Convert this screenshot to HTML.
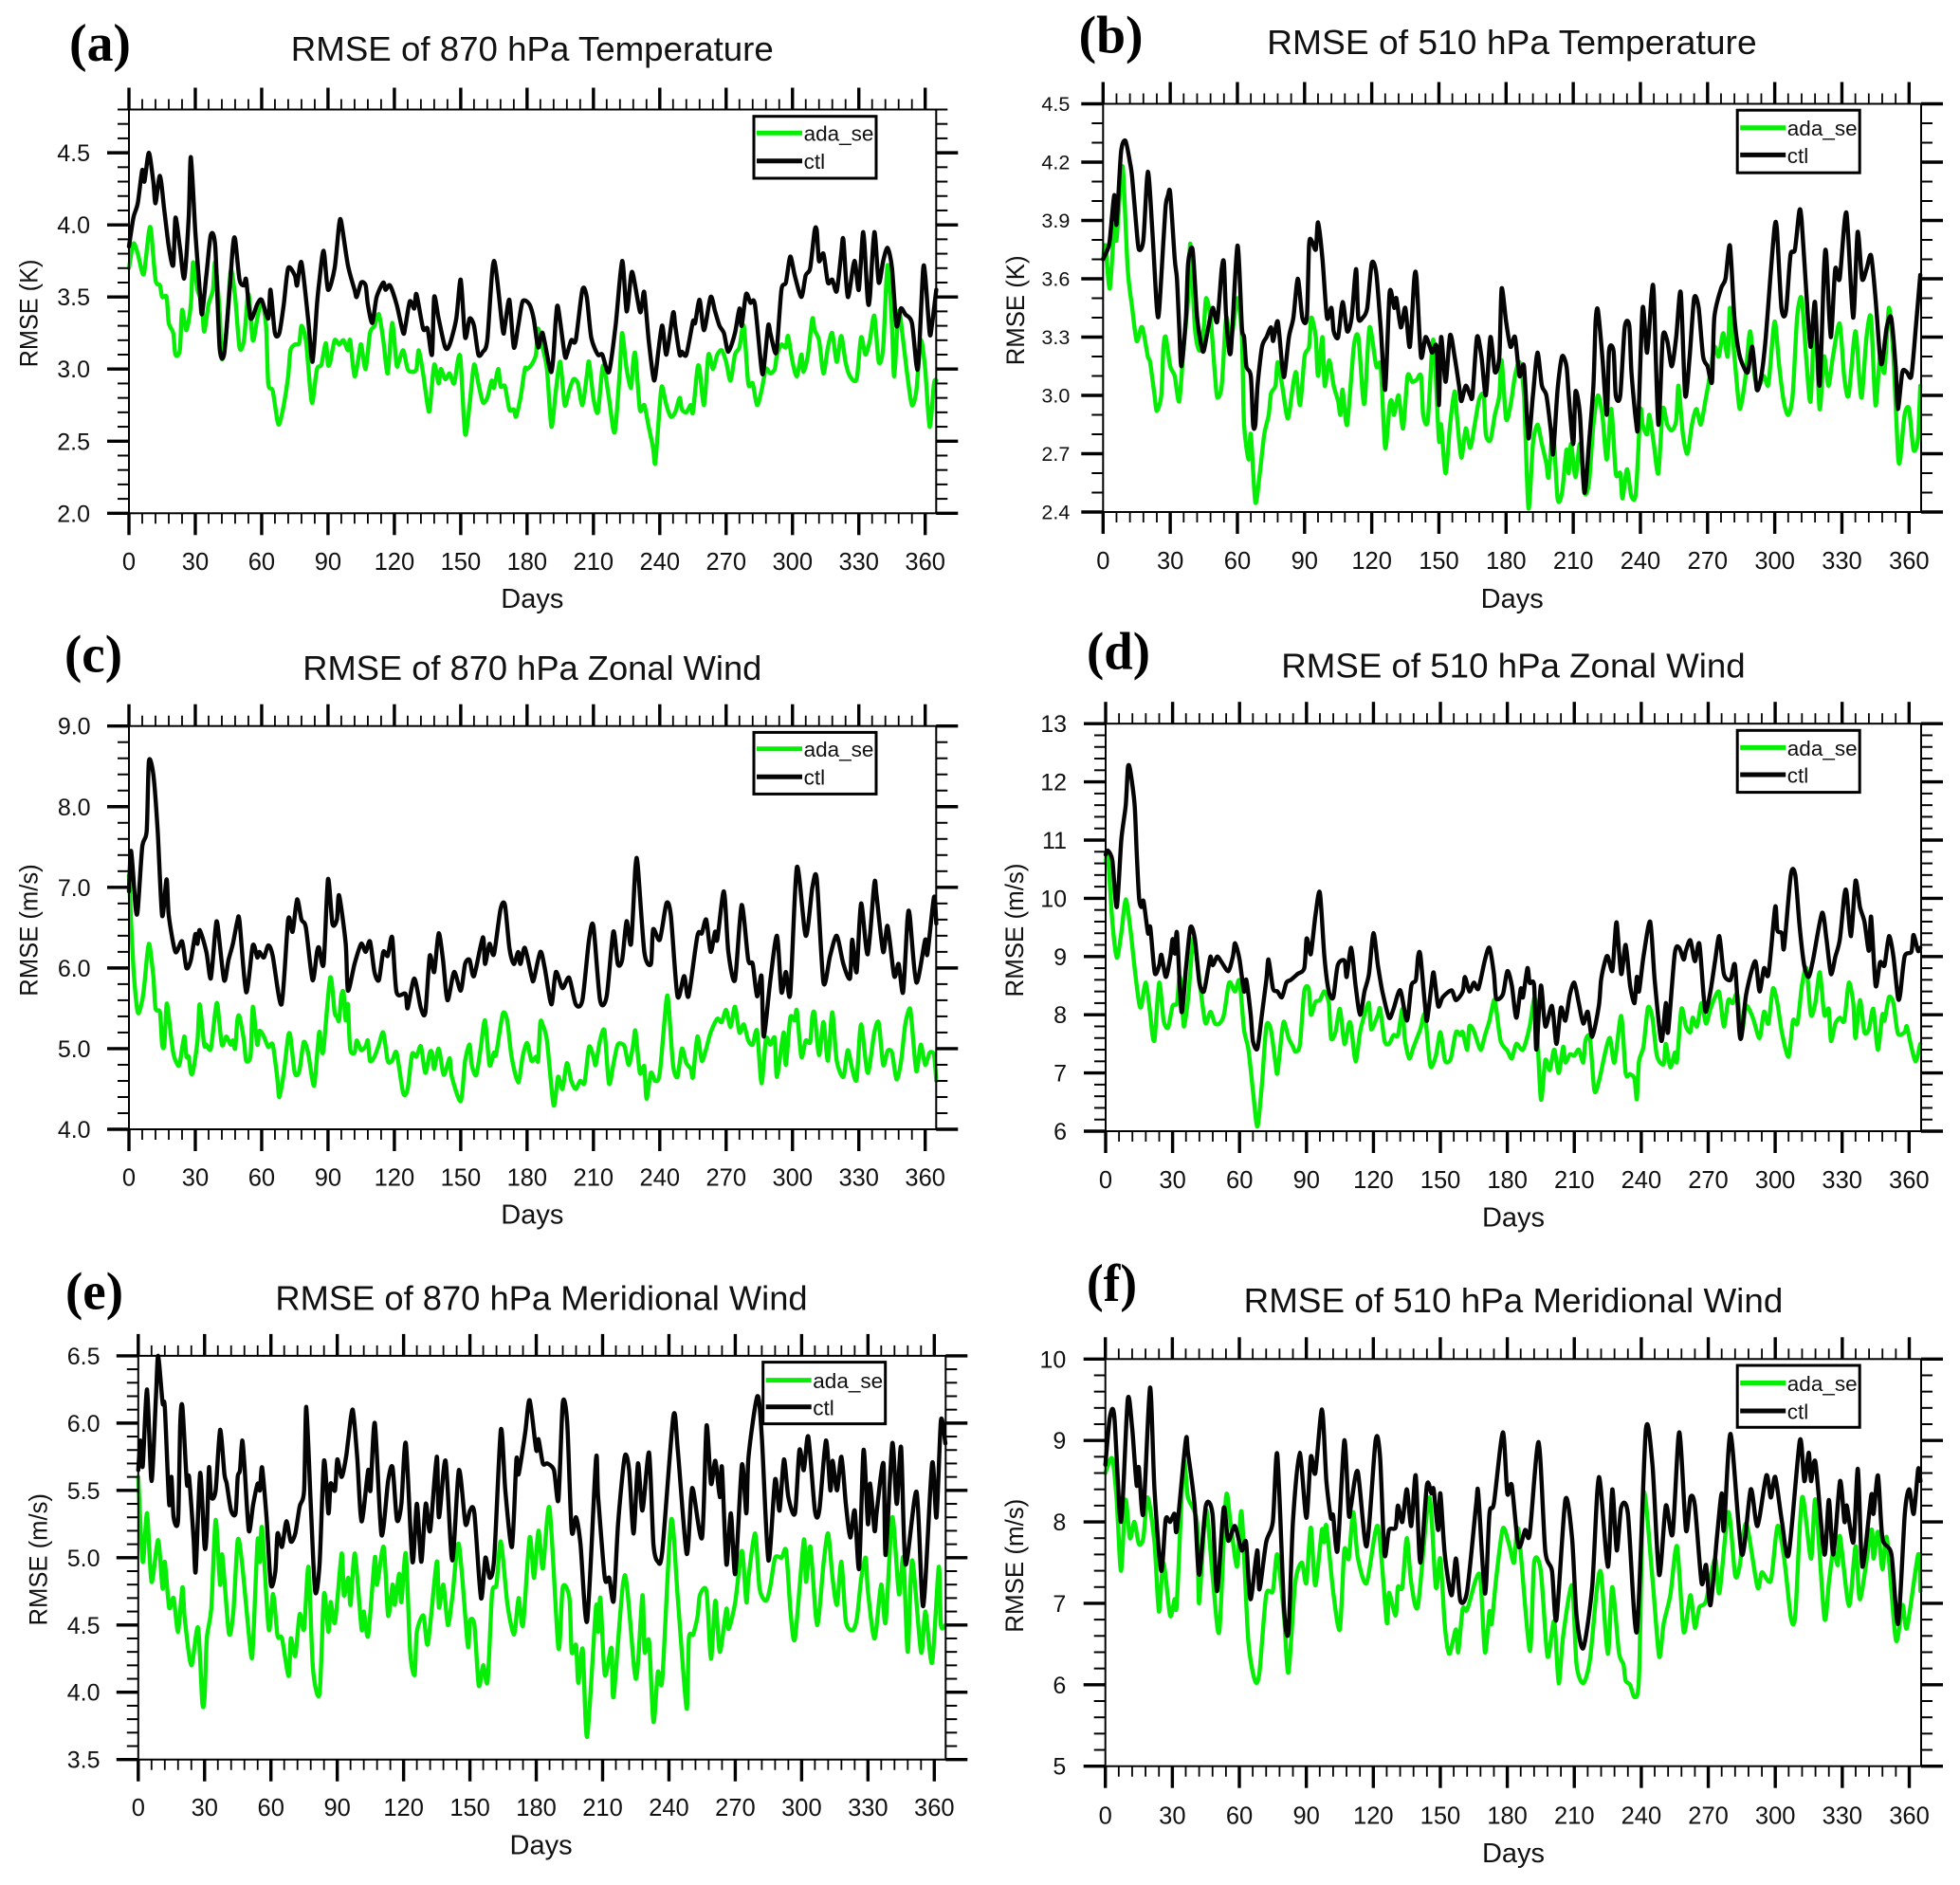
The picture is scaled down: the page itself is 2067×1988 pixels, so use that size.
<!DOCTYPE html>
<html lang="en">
<head>
<meta charset="utf-8">
<title>RMSE panels</title>
<style>
html,body{margin:0;padding:0;background:#fff;}
svg{display:block;}
text{font-family:"Liberation Sans",sans-serif;fill:#111;}
.letter{font-family:"Liberation Serif",serif;font-weight:bold;font-size:56px;fill:#000;}
.title{font-size:36px;text-anchor:middle;}
.days{font-size:29px;text-anchor:middle;}
.ytitle{font-size:27px;text-anchor:middle;}
</style>
</head>
<body>
<svg id="figure" xmlns="http://www.w3.org/2000/svg" width="2067" height="1988" viewBox="0 0 2067 1988">
<rect x="0" y="0" width="2067" height="1988" fill="#fff"/>

<g id="panel-a">
<text class="letter" x="73" y="64" textLength="65" lengthAdjust="spacingAndGlyphs">(a)</text>
<text class="title" x="561.3" y="64" textLength="509" lengthAdjust="spacingAndGlyphs">RMSE of 870 hPa Temperature</text>
<text class="days" x="561.3" y="640.8">Days</text>
<text class="ytitle" transform="translate(39.6,330.5) rotate(-90)" textLength="113.7" lengthAdjust="spacingAndGlyphs">RMSE (K)</text>
</g>
<g id="panel-b">
<text class="letter" x="1137.6" y="55.6" textLength="68" lengthAdjust="spacingAndGlyphs">(b)</text>
<text class="title" x="1594.4" y="56.8" textLength="516.5" lengthAdjust="spacingAndGlyphs">RMSE of 510 hPa Temperature</text>
<text class="days" x="1594.7" y="640.8">Days</text>
<text class="ytitle" transform="translate(1080,327.4) rotate(-90)" textLength="115.8" lengthAdjust="spacingAndGlyphs">RMSE (K)</text>
</g>
<g id="panel-c">
<text class="letter" x="68" y="708.4" textLength="61" lengthAdjust="spacingAndGlyphs">(c)</text>
<text class="title" x="561.3" y="716.8" textLength="484" lengthAdjust="spacingAndGlyphs">RMSE of 870 hPa Zonal Wind</text>
<text class="days" x="561.3" y="1290.3">Days</text>
<text class="ytitle" transform="translate(39.6,981) rotate(-90)" textLength="139.4" lengthAdjust="spacingAndGlyphs">RMSE (m/s)</text>
</g>
<g id="panel-d">
<text class="letter" x="1146" y="705.5" textLength="67" lengthAdjust="spacingAndGlyphs">(d)</text>
<text class="title" x="1596" y="714.7" textLength="489.4" lengthAdjust="spacingAndGlyphs">RMSE of 510 hPa Zonal Wind</text>
<text class="days" x="1596" y="1293.7">Days</text>
<text class="ytitle" transform="translate(1079,981) rotate(-90)" textLength="141" lengthAdjust="spacingAndGlyphs">RMSE (m/s)</text>
</g>
<g id="panel-e">
<text class="letter" x="69" y="1380.6" textLength="61" lengthAdjust="spacingAndGlyphs">(e)</text>
<text class="title" x="571" y="1381.5" textLength="561.3" lengthAdjust="spacingAndGlyphs">RMSE of 870 hPa Meridional Wind</text>
<text class="days" x="570.6" y="1955.4">Days</text>
<text class="ytitle" transform="translate(49.5,1644.8) rotate(-90)" textLength="139.4" lengthAdjust="spacingAndGlyphs">RMSE (m/s)</text>
</g>
<g id="panel-f">
<text class="letter" x="1146" y="1372" textLength="53" lengthAdjust="spacingAndGlyphs">(f)</text>
<text class="title" x="1596" y="1384" textLength="568.6" lengthAdjust="spacingAndGlyphs">RMSE of 510 hPa Meridional Wind</text>
<text class="days" x="1596" y="1963.8">Days</text>
<text class="ytitle" transform="translate(1079,1651.2) rotate(-90)" textLength="141" lengthAdjust="spacingAndGlyphs">RMSE (m/s)</text>
</g>
</svg>

<script>
// Shared x-axis tick labels
const dayTicks = [0,30,60,90,120,150,180,210,240,270,300,330,360];

// y-axis tick labels per panel
const yLabelsA = ['2.0','2.5','3.0','3.5','4.0','4.5'];
const yLabelsB = ['2.4','2.7','3.0','3.3','3.6','3.9','4.2','4.5'];
const yLabelsC = ['4.0','5.0','6.0','7.0','8.0','9.0'];
const yLabelsD = ['6','7','8','9','10','11','12','13'];
const yLabelsE = ['3.5','4.0','4.5','5.0','5.5','6.0','6.5'];
const yLabelsF = ['5','6','7','8','9','10'];

// Series as [day, RMSE]
const ctlA = [[0,3.85],[2,4.05],[4,4.15],[6,4.38],[7,4.3],[9,4.5],[11,4.3],[12,4.15],[14,4.34],[16,4.1],[18,3.85],[20,3.72],[21,4.05],[23,3.85],[25,3.63],[27,4.05],[28,4.47],[30,3.95],[32,3.55],[33,3.38],[35,3.65],[37,3.93],[39,3.85],[41,3.15],[43,3.1],[45,3.45],[47,3.85],[48,3.9],[50,3.62],[52,3.58],[53,3.62],[55,3.35],[58,3.45],[60,3.48],[63,3.35],[64,3.55],[66,3.25],[68,3.25],[70,3.45],[72,3.7],[75,3.65],[76,3.58],[78,3.74],[81,3.35],[83,3.05],[85,3.45],[86,3.6],[88,3.82],[90,3.55],[93,3.7],[95,4.0],[96,4.02],[99,3.72],[102,3.55],[103,3.5],[105,3.6],[107,3.58],[108,3.45],[110,3.32],[112,3.5],[115,3.6],[116,3.55],[118,3.58],[121,3.45],[124,3.25],[125,3.3],[127,3.47],[129,3.42],[130,3.52],[133,3.28],[135,3.28],[137,3.1],[138,3.5],[140,3.35],[143,3.15],[145,3.17],[148,3.35],[150,3.62],[152,3.22],[154,3.35],[156,3.3],[158,3.1],[160,3.12],[162,3.2],[165,3.75],[169,3.27],[170,3.3],[172,3.48],[174,3.15],[176,3.3],[178,3.47],[181,3.45],[183,3.35],[185,3.15],[187,3.25],[191,2.98],[193,3.35],[194,3.43],[197,3.1],[198,3.1],[200,3.2],[202,3.2],[205,3.55],[207,3.5],[209,3.22],[212,3.1],[214,3.1],[217,2.98],[220,3.3],[223,3.75],[225,3.4],[227,3.65],[228,3.65],[231,3.4],[232,3.45],[233,3.53],[235,3.2],[237,2.95],[238,2.95],[241,3.3],[243,3.1],[246,3.39],[247,3.3],[249,3.1],[250,3.12],[252,3.1],[255,3.33],[256,3.32],[258,3.48],[260,3.27],[263,3.5],[265,3.4],[267,3.3],[269,3.25],[271,3.12],[274,3.25],[276,3.42],[277,3.3],[279,3.52],[281,3.46],[283,3.45],[286,3.0],[287,3.0],[289,3.3],[290,3.25],[292,3.12],[293,3.15],[295,3.55],[297,3.6],[299,3.78],[301,3.65],[304,3.5],[306,3.65],[308,3.7],[310,3.96],[311,3.96],[312,3.75],[314,3.8],[316,3.6],[318,3.62],[320,3.54],[322,3.8],[323,3.9],[325,3.5],[328,3.75],[330,3.55],[332,3.95],[334,3.48],[335,3.5],[337,3.95],[339,3.6],[341,3.75],[343,3.84],[345,3.7],[347,3.3],[349,3.42],[351,3.38],[354,3.32],[356,3.03],[357,3.05],[359,3.68],[360,3.65],[362,3.25],[363,3.3],[365,3.55]];
const adaA = [[0,3.7],[2,3.87],[4,3.8],[6,3.67],[7,3.68],[9,3.95],[10,3.96],[12,3.62],[14,3.58],[15,3.5],[17,3.5],[18,3.32],[20,3.25],[21,3.1],[23,3.13],[24,3.41],[26,3.27],[28,3.45],[29,3.74],[31,3.55],[33,3.45],[34,3.26],[36,3.45],[38,3.55],[39,3.74],[41,3.4],[42,3.07],[44,3.25],[46,3.68],[48,3.5],[50,3.15],[52,3.2],[54,3.52],[56,3.2],[58,3.35],[60,3.48],[62,3.3],[63,2.9],[65,2.85],[67,2.65],[68,2.62],[70,2.75],[72,2.95],[73,3.13],[75,3.17],[77,3.18],[78,3.3],[80,3.2],[82,2.85],[83,2.77],[85,3.0],[87,3.03],[89,3.18],[90,3.03],[91,3.05],[93,3.2],[95,3.17],[97,3.2],[99,3.13],[100,3.2],[102,2.95],[104,3.1],[105,3.17],[107,3.0],[109,3.25],[111,3.3],[113,3.38],[115,3.2],[117,2.97],[119,3.32],[121,3.03],[122,3.05],[124,3.13],[126,3.0],[128,2.98],[130,3.0],[131,3.13],[133,2.97],[135,2.75],[136,2.72],[138,3.03],[140,2.9],[141,3.0],[143,2.93],[145,2.97],[147,2.9],[149,3.08],[150,3.05],[152,2.55],[154,2.75],[156,3.03],[158,2.9],[160,2.77],[162,2.8],[164,2.92],[165,2.87],[167,3.0],[168,2.88],[170,2.88],[172,2.72],[174,2.72],[175,2.67],[177,2.8],[179,3.0],[180,3.0],[182,3.03],[184,3.1],[185,3.28],[187,3.15],[189,3.0],[191,2.6],[193,2.85],[195,3.05],[197,2.75],[199,2.85],[201,2.93],[203,2.9],[205,2.75],[207,2.95],[208,3.05],[210,2.8],[212,2.7],[214,3.0],[215,3.0],[217,2.8],[219,2.58],[220,2.6],[222,3.0],[223,3.25],[225,3.0],[227,2.87],[228,3.05],[229,3.1],[231,2.72],[233,2.75],[235,2.6],[237,2.45],[238,2.35],[240,2.75],[241,2.88],[243,2.75],[245,2.67],[247,2.7],[249,2.8],[250,2.72],[252,2.7],[254,2.75],[255,2.7],[257,3.0],[258,3.0],[260,2.75],[262,3.1],[264,3.0],[266,3.1],[268,3.13],[270,3.05],[272,2.92],[274,3.1],[276,3.15],[278,3.3],[280,2.9],[282,2.9],[284,2.75],[286,2.85],[288,3.0],[290,2.97],[292,3.0],[293,3.1],[295,3.17],[297,3.15],[298,3.23],[300,3.05],[302,2.95],[304,3.1],[305,2.98],[307,3.1],[309,3.35],[310,3.27],[312,3.2],[314,2.97],[316,3.15],[318,3.25],[320,3.05],[322,3.23],[324,3.05],[326,2.95],[329,2.93],[331,3.22],[333,3.1],[335,3.2],[337,3.37],[339,3.05],[341,3.15],[343,3.72],[345,3.3],[346,2.95],[348,3.4],[350,3.2],[352,2.95],[354,2.75],[356,2.85],[358,3.2],[360,3.0],[362,2.6],[364,2.9],[365,2.92]];

const ctlB = [[0,3.7],[2,3.75],[3,3.8],[5,4.03],[6,3.88],[8,4.25],[10,4.31],[12,4.2],[13,4.12],[15,3.85],[16,3.75],[18,3.8],[20,4.15],[22,3.85],[24,3.45],[25,3.43],[27,3.8],[28,3.98],[29,4.03],[30,4.04],[32,3.7],[33,3.6],[34,3.35],[35,3.15],[37,3.4],[38,3.68],[40,3.75],[42,3.4],[44,3.25],[45,3.23],[47,3.35],[49,3.45],[51,3.38],[53,3.65],[54,3.68],[55,3.4],[57,3.22],[60,3.77],[62,3.35],[63,3.3],[64,3.15],[66,3.1],[67,2.85],[68,2.85],[69,3.05],[71,3.25],[73,3.3],[75,3.35],[76,3.28],[78,3.38],[80,3.15],[81,3.1],[83,3.3],[85,3.4],[87,3.6],[89,3.4],[91,3.4],[92,3.77],[93,3.8],[95,3.75],[96,3.89],[98,3.7],[100,3.4],[102,3.45],[103,3.33],[105,3.3],[107,3.48],[109,3.33],[111,3.4],[113,3.65],[114,3.4],[116,3.4],[118,3.45],[120,3.68],[122,3.63],[124,3.35],[126,3.03],[128,3.53],[130,3.45],[131,3.5],[133,3.35],[135,3.45],[137,3.25],[139,3.6],[140,3.6],[142,3.2],[144,3.3],[146,3.25],[147,3.22],[149,3.25],[150,2.95],[151,3.3],[153,3.07],[155,3.31],[157,3.2],[159,3.05],[160,2.97],[162,3.05],[164,3.0],[165,3.0],[167,3.3],[169,3.2],[171,3.0],[173,3.3],[175,3.12],[177,3.2],[178,3.55],[180,3.38],[182,3.25],[184,3.3],[186,3.1],[188,3.15],[190,2.78],[192,3.0],[194,3.22],[196,3.05],[198,3.0],[200,2.82],[201,2.7],[203,3.03],[205,3.2],[207,3.15],[208,3.0],[210,2.75],[211,3.02],[213,2.9],[215,2.5],[217,2.75],[219,3.05],[220,3.38],[221,3.44],[223,3.2],[225,2.9],[226,3.23],[228,3.23],[229,3.0],[231,3.0],[233,3.35],[235,3.36],[236,3.12],[238,2.87],[239,2.85],[241,3.45],[243,3.22],[245,3.52],[246,3.52],[248,2.85],[250,3.3],[252,3.28],[254,3.15],[256,3.3],[258,3.53],[260,3.0],[262,3.2],[264,3.5],[266,3.45],[268,3.2],[270,3.15],[272,3.07],[273,3.4],[276,3.55],[278,3.6],[280,3.77],[282,3.4],[284,3.22],[286,3.15],[288,3.12],[290,3.25],[292,3.03],[294,3.1],[296,3.3],[298,3.6],[300,3.87],[301,3.85],[303,3.45],[305,3.43],[307,3.72],[309,3.75],[311,3.95],[312,3.9],[314,3.55],[316,3.25],[318,3.48],[320,3.05],[322,3.65],[323,3.73],[325,3.3],[327,3.65],[329,3.6],[332,3.94],[335,3.4],[337,3.84],[339,3.6],[341,3.65],[343,3.72],[345,3.5],[347,3.2],[348,3.17],[350,3.35],[352,3.4],[354,3.15],[355,2.93],[357,3.12],[359,3.12],[361,3.1],[363,3.35],[365,3.62]];
const adaB = [[0,3.7],[1,3.77],[3,3.55],[5,3.87],[6,3.8],[8,4.12],[9,4.15],[11,3.65],[13,3.45],[15,3.28],[17,3.35],[18,3.33],[20,3.2],[21,3.17],[23,3.0],[24,2.92],[26,3.0],[27,3.25],[28,3.3],[30,3.15],[32,3.1],[34,2.97],[36,3.25],[38,3.5],[39,3.78],[41,3.35],[43,3.23],[45,3.35],[46,3.5],[48,3.4],[50,3.1],[51,2.99],[53,3.05],[55,3.4],[57,3.27],[60,3.5],[62,3.3],[63,2.85],[65,2.67],[66,2.8],[68,2.45],[70,2.6],[72,2.8],[74,2.9],[75,3.01],[77,3.05],[78,3.17],[80,3.05],[82,2.9],[83,2.9],[86,3.12],[88,2.95],[90,3.2],[92,3.25],[93,3.4],[95,3.3],[96,3.1],[98,3.3],[99,3.05],[101,3.18],[103,3.05],[105,2.97],[106,2.9],[107,3.03],[109,2.85],[112,3.25],[114,3.3],[116,3.0],[117,2.98],[119,3.35],[122,3.15],[124,3.15],[126,2.73],[128,2.95],[129,2.97],[130,2.9],[132,3.0],[134,2.83],[136,3.1],[138,3.07],[140,3.08],[142,3.1],[143,2.9],[145,2.87],[147,3.25],[148,3.24],[150,2.77],[151,2.85],[153,2.6],[155,2.85],[157,3.02],[158,2.9],[160,2.68],[162,2.83],[164,2.73],[166,2.85],[168,2.98],[170,3.0],[171,2.8],[173,2.77],[175,2.9],[177,3.0],[178,3.18],[180,2.88],[182,2.95],[184,3.1],[186,3.17],[188,3.0],[190,2.42],[192,2.75],[194,2.85],[196,2.75],[198,2.65],[199,2.58],[201,2.82],[203,2.47],[205,2.5],[207,2.72],[208,2.6],[209,2.75],[211,2.58],[213,2.75],[215,2.5],[217,2.55],[219,2.85],[221,3.0],[223,2.9],[225,2.67],[227,2.93],[229,2.6],[231,2.6],[232,2.47],[234,2.62],[236,2.48],[238,2.5],[240,2.92],[241,2.85],[243,2.8],[244,2.9],[246,2.75],[248,2.6],[250,2.93],[252,2.85],[254,2.82],[256,2.87],[257,3.05],[259,2.8],[261,2.7],[263,2.85],[265,2.93],[267,2.85],[269,2.97],[271,3.1],[273,3.25],[275,3.2],[277,3.32],[279,3.2],[280,3.45],[282,3.2],[284,2.95],[285,2.95],[287,3.1],[289,3.33],[291,3.1],[293,3.05],[295,3.1],[297,3.05],[298,3.15],[300,3.38],[302,3.15],[304,2.97],[306,2.9],[308,3.0],[310,3.4],[312,3.5],[314,3.2],[316,2.97],[318,3.43],[320,2.93],[322,3.2],[324,3.05],[326,3.2],[329,3.37],[331,3.1],[333,3.0],[336,3.33],[338,3.05],[339,3.0],[341,3.3],[343,3.4],[345,2.95],[347,3.2],[349,3.12],[351,3.45],[353,3.2],[355,2.7],[356,2.67],[358,2.9],[360,2.93],[362,2.72],[364,2.78],[365,3.05]];

const ctlC = [[0,6.95],[1,7.45],[3,6.75],[4,6.72],[6,7.5],[8,7.7],[9,8.56],[11,8.4],[13,7.7],[15,6.65],[17,7.1],[18,6.65],[21,6.2],[24,6.33],[26,6.0],[28,6.1],[30,6.42],[31,6.3],[32,6.47],[35,6.2],[37,5.87],[39,6.45],[40,6.55],[43,5.85],[45,6.1],[47,6.3],[49,6.58],[50,6.58],[53,5.7],[56,6.28],[58,6.13],[59,6.2],[61,6.13],[63,6.28],[65,6.15],[69,5.55],[72,6.6],[74,6.45],[76,6.85],[78,6.6],[80,6.5],[83,5.85],[85,6.2],[86,6.25],[88,6.05],[90,7.1],[92,6.55],[94,6.6],[95,6.9],[98,6.3],[99,5.72],[102,6.05],[105,6.3],[107,6.2],[109,6.33],[111,5.95],[113,5.85],[115,6.2],[117,6.15],[119,6.38],[121,5.7],[125,5.68],[126,5.5],[129,5.87],[132,5.5],[134,5.45],[136,6.15],[138,5.95],[140,6.43],[142,6.1],[144,5.6],[147,5.95],[150,5.72],[152,6.05],[154,6.1],[156,5.9],[160,6.38],[161,6.05],[163,6.3],[165,6.17],[168,6.73],[170,6.78],[172,6.25],[174,6.05],[176,6.2],[177,6.05],[179,6.25],[182,5.9],[183,5.85],[186,6.2],[188,6.0],[191,5.55],[193,5.95],[196,5.75],[199,5.88],[202,5.55],[205,5.6],[208,6.35],[210,6.52],[213,5.6],[216,5.65],[219,6.45],[221,6.05],[223,6.1],[225,6.58],[227,6.3],[229,7.25],[230,7.28],[233,6.2],[236,6.05],[237,6.48],[240,6.35],[243,6.8],[245,6.65],[248,5.65],[251,5.9],[253,5.65],[257,6.4],[259,6.43],[261,6.6],[263,6.2],[265,6.45],[266,6.35],[269,6.95],[271,6.2],[274,5.85],[277,6.78],[280,6.1],[282,6.05],[284,5.65],[286,5.9],[287,5.15],[290,5.85],[293,6.4],[295,5.7],[297,5.95],[299,5.68],[302,7.25],[306,6.4],[309,7.0],[311,7.1],[314,5.82],[317,6.15],[320,6.4],[323,6.05],[326,5.87],[327,6.35],[329,5.95],[331,6.8],[334,6.17],[337,7.05],[338,6.9],[341,6.2],[343,6.52],[346,5.9],[348,6.05],[350,5.7],[352,6.6],[353,6.65],[356,5.82],[360,6.35],[361,6.17],[364,6.88],[365,6.55]];
const adaC = [[0,7.15],[2,6.0],[4,5.45],[6,5.6],[7,5.8],[9,6.3],[11,5.9],[12,5.5],[14,5.45],[15,5.05],[16,5.05],[17,5.55],[18,5.4],[20,4.95],[22,4.8],[23,4.82],[25,5.15],[26,4.9],[27,4.9],[28,4.7],[29,4.72],[31,5.1],[32,5.55],[34,5.05],[35,5.05],[37,5.0],[39,5.45],[40,5.55],[42,5.05],[44,5.15],[46,5.05],[47,5.1],[48,5.0],[49,5.35],[50,5.4],[52,5.1],[53,4.85],[55,4.92],[56,5.52],[58,5.05],[59,5.22],[61,5.15],[63,5.02],[65,5.05],[67,4.65],[68,4.4],[70,4.7],[72,5.15],[73,5.15],[75,4.7],[77,4.72],[79,5.08],[81,4.95],[83,4.6],[84,4.58],[86,5.2],[87,5.0],[88,5.0],[91,5.88],[93,5.45],[94,5.4],[95,5.35],[96,5.65],[97,5.7],[98,5.35],[99,5.55],[100,5.0],[102,4.95],[103,5.1],[105,4.98],[107,5.03],[108,5.1],[109,4.85],[111,4.9],[113,5.05],[115,5.2],[117,4.85],[119,4.85],[121,4.95],[124,4.45],[126,4.5],[128,4.93],[130,4.9],[132,5.03],[134,4.7],[136,4.95],[137,4.95],[138,4.75],[140,5.0],[142,4.7],[143,4.7],[145,4.88],[146,4.65],[150,4.35],[152,4.85],[154,5.05],[155,4.8],[157,4.67],[159,5.0],[161,5.35],[163,4.8],[165,4.95],[166,4.93],[169,5.43],[171,5.35],[173,4.9],[176,4.58],[178,4.9],[180,5.07],[182,4.85],[184,4.9],[185,4.85],[186,5.32],[187,5.3],[189,5.1],[192,4.3],[194,4.65],[196,4.5],[198,4.82],[200,4.6],[202,4.5],[204,4.6],[206,4.58],[208,5.02],[210,4.9],[211,4.8],[213,5.1],[215,5.22],[217,4.57],[219,4.8],[221,5.05],[224,5.03],[226,4.8],[228,5.05],[229,5.22],[231,4.7],[233,4.78],[234,4.38],[236,4.7],[238,4.6],[240,4.7],[243,5.6],[244,5.55],[246,4.8],[248,4.65],[250,5.0],[252,4.82],[254,4.75],[255,4.65],[257,5.15],[259,4.85],[261,5.0],[263,5.2],[266,5.37],[268,5.33],[270,5.48],[272,5.27],[274,5.52],[276,5.2],[278,5.3],[280,5.1],[282,5.05],[284,5.22],[286,4.57],[288,5.12],[290,5.05],[292,5.13],[293,4.65],[296,5.2],[297,4.8],[299,5.38],[301,5.35],[302,5.47],[304,4.9],[306,5.1],[308,5.08],[309,5.4],[310,5.43],[312,4.92],[314,5.33],[316,4.85],[318,5.45],[320,4.85],[323,4.65],[325,4.98],[327,4.75],[329,4.62],[331,5.3],[334,4.7],[337,5.2],[339,5.32],[341,4.8],[343,4.97],[345,4.95],[347,4.62],[349,4.82],[351,5.3],[353,5.5],[354,5.3],[356,4.72],[358,5.05],[360,4.8],[362,4.95],[364,4.92],[365,4.6]];

const ctlD = [[0,10.75],[1,10.82],[3,10.65],[5,9.85],[7,11],[9,11.6],[10,12.25],[11,12.2],[13,11.6],[14,10.7],[15,10],[16,9.85],[17,9.95],[19,9.4],[20,9.5],[22,8.72],[24,8.85],[25,9.03],[27,8.65],[29,9.0],[30,9.3],[31,9.05],[32,9.4],[34,8.05],[36,8.8],[38,9.5],[40,9.3],[42,8.55],[44,8.4],[46,8.8],[47,9.0],[48,8.85],[50,9.0],[52,8.9],[55,8.75],[57,9.0],[58,9.23],[60,8.95],[62,8.4],[63,8.6],[65,8.0],[66,7.55],[68,7.42],[70,8.0],[72,8.6],[73,8.95],[75,8.45],[77,8.4],[79,8.3],[81,8.55],[83,8.6],[86,8.7],[89,8.8],[90,9.3],[91,9.2],[92,9.05],[94,9.7],[96,10.1],[98,9.0],[100,8.4],[102,8.3],[104,8.85],[107,8.93],[108,8.65],[110,9.15],[112,8.5],[114,8.0],[116,8.4],[118,8.7],[120,9.4],[122,8.85],[124,8.4],[127,7.95],[129,8.1],[132,8.42],[135,7.9],[137,8.5],[139,8.6],[140,9.0],[141,9.03],[143,8.2],[144,7.9],[146,8.5],[147,8.72],[149,8.15],[151,8.3],[155,8.42],[157,8.25],[160,8.4],[161,8.65],[163,8.4],[165,8.55],[167,8.45],[170,8.95],[172,9.15],[174,8.7],[175,8.28],[178,8.35],[180,8.75],[182,8.5],[184,7.95],[186,8.45],[187,8.3],[189,8.8],[190,8.55],[192,8.5],[193,7.4],[195,8.5],[197,7.8],[200,8.15],[202,7.5],[204,8.12],[206,7.9],[208,8.35],[210,8.55],[212,8.2],[214,7.85],[216,8.05],[218,7.62],[221,8.15],[222,8.6],[224,8.95],[225,9.0],[227,8.75],[228,9.2],[229,9.58],[231,8.7],[233,9.2],[235,8.5],[237,8.2],[238,8.65],[239,8.4],[241,9.0],[244,9.6],[246,8.6],[249,7.55],[251,8.2],[252,7.7],[255,9.05],[257,9.15],[259,8.95],[260,9.1],[262,9.28],[264,8.92],[266,9.22],[268,8.3],[269,8.05],[271,8.4],[273,8.9],[275,9.35],[277,8.7],[280,8.6],[282,8.85],[284,7.7],[285,7.65],[287,8.35],[291,8.92],[293,8.4],[295,8.8],[297,8.7],[300,9.85],[301,9.45],[303,9.4],[304,9.15],[307,10.4],[309,10.4],[311,9.5],[313,8.85],[315,8.65],[317,8.95],[321,9.75],[323,9.3],[325,8.7],[327,9.0],[329,9.3],[331,10.05],[332,10.1],[334,9.35],[336,10.3],[338,9.85],[340,9.6],[342,9.1],[343,9.68],[345,8.5],[347,8.9],[349,8.85],[351,9.35],[353,9.0],[355,8.3],[356,8.35],[358,9.0],[361,9.08],[362,9.37],[364,9.1],[365,9.15]];
const adaD = [[0,10.6],[1,10.75],[3,9.6],[5,8.98],[7,9.4],[9,9.98],[11,9.5],[13,8.8],[15,8.2],[16,8.15],[18,8.55],[20,8.0],[21,7.65],[22,7.6],[24,8.55],[26,7.9],[28,7.78],[30,8.15],[32,8.2],[33,8.65],[34,8.45],[35,7.8],[37,8.3],[39,9.25],[40,9.22],[42,8.6],[44,8.0],[45,7.85],[47,8.05],[49,7.85],[51,7.85],[53,8.0],[55,8.5],[56,8.55],[58,8.4],[60,8.58],[62,7.75],[64,7.4],[66,6.7],[68,6.08],[70,6.8],[72,7.8],[74,7.75],[76,7.2],[77,7.0],[79,7.7],[80,7.88],[82,7.6],[84,7.45],[85,7.37],[87,7.48],[89,8.4],[91,8.45],[92,8.0],[94,8.22],[96,8.25],[98,8.4],[100,8.2],[101,7.6],[103,7.7],[105,8.1],[107,7.5],[109,7.85],[110,7.8],[112,7.2],[114,7.7],[116,8.0],[118,8.2],[119,7.75],[122,8.0],[123,8.1],[125,7.55],[127,7.5],[129,7.65],[131,7.65],[133,8.1],[134,7.6],[136,7.25],[138,7.45],[141,7.75],[143,8.0],[145,7.25],[146,7.1],[148,7.3],[150,7.7],[152,7.22],[154,7.2],[155,7.3],[157,7.7],[159,7.65],[160,7.7],[162,7.4],[163,7.8],[165,7.72],[168,7.4],[170,7.65],[172,7.9],[174,8.25],[175,8.1],[177,7.55],[180,7.38],[182,7.25],[184,7.5],[187,7.4],[190,7.8],[192,8.28],[193,8.05],[195,6.55],[197,7.22],[199,7.05],[201,7.4],[203,7.0],[205,7.45],[206,7.18],[208,7.32],[210,7.3],[212,7.4],[214,7.18],[215,7.55],[217,7.6],[219,6.7],[221,6.85],[224,7.38],[226,7.6],[228,7.18],[231,7.98],[233,7.0],[235,6.98],[237,6.9],[238,6.55],[239,7.2],[241,7.45],[243,8.12],[245,7.95],[247,7.3],[250,7.15],[251,7.5],[253,7.1],[255,7.35],[256,7.2],[258,8.1],[260,7.8],[262,7.7],[263,7.95],[265,7.8],[267,8.2],[269,7.85],[271,8.1],[273,8.3],[275,8.38],[277,7.8],[279,8.25],[281,8.2],[283,8.35],[285,7.7],[287,8.15],[290,7.95],[293,7.6],[295,8.05],[297,7.85],[299,8.45],[301,8.2],[303,7.7],[306,7.28],[308,7.9],[310,7.85],[312,8.5],[314,8.8],[316,8.0],[318,8.2],[320,8.73],[322,8.0],[324,8.1],[325,7.55],[327,7.85],[329,7.95],[331,7.9],[333,8.55],[335,8.2],[336,7.6],[338,8.25],[340,7.7],[342,7.75],[344,8.1],[346,7.4],[348,8.0],[349,7.9],[351,8.3],[353,8.2],[355,7.68],[358,7.7],[359,7.8],[361,7.45],[363,7.2],[365,7.5]];

const ctlE = [[0,5.65],[1,5.87],[2,5.68],[4,6.25],[6,5.57],[8,6.2],[9,6.5],[11,6.15],[12,6.12],[14,5.4],[15,5.6],[16,5.3],[18,5.28],[19,6.0],[20,6.12],[22,5.55],[23,5.6],[25,5.15],[26,4.9],[28,5.63],[30,5.08],[31,5.2],[32,5.67],[33,5.45],[35,5.5],[37,5.95],[39,5.62],[40,5.55],[42,5.35],[44,5.33],[45,5.6],[46,5.65],[47,5.87],[48,5.7],[50,5.2],[52,5.4],[54,5.55],[55,5.5],[56,5.67],[58,5.3],[60,4.8],[62,4.9],[63,5.18],[65,5.08],[67,5.27],[69,5.12],[71,5.18],[73,5.38],[75,5.5],[76,6.12],[78,5.4],[80,4.75],[82,4.95],[84,5.72],[86,5.33],[87,5.55],[89,5.5],[90,5.73],[92,5.6],[94,5.75],[95,5.88],[97,6.1],[99,5.75],[101,5.27],[104,5.65],[105,5.5],[107,6.0],[110,5.17],[113,5.57],[115,5.67],[117,5.28],[119,5.4],[121,5.85],[124,4.97],[126,5.4],[128,4.97],[130,5.4],[132,5.2],[135,5.75],[136,5.3],[139,5.72],[142,4.98],[145,5.65],[148,5.25],[150,5.35],[152,5.33],[155,4.7],[157,5.0],[159,4.85],[161,5.0],[164,5.95],[166,5.5],[169,5.08],[171,5.73],[172,5.62],[175,5.93],[177,6.17],[180,5.8],[181,5.88],[183,5.7],[185,5.7],[188,5.65],[190,5.43],[192,6.15],[194,6.0],[196,5.2],[198,5.3],[200,5.1],[203,4.53],[207,5.73],[208,5.45],[211,4.85],[213,4.85],[215,4.68],[217,5.25],[220,5.75],[222,5.65],[224,5.18],[226,5.7],[228,5.35],[231,5.78],[233,5.1],[235,4.97],[237,5.05],[242,6.05],[244,5.8],[248,5.03],[250,5.45],[251,5.5],[255,5.15],[257,5.98],[259,5.55],[261,5.72],[263,5.45],[264,5.67],[266,4.95],[268,5.33],[270,4.88],[273,5.69],[275,5.33],[276,5.75],[280,6.2],[282,5.9],[285,4.98],[288,5.58],[290,5.35],[292,5.73],[294,5.45],[297,5.33],[299,5.8],[301,5.65],[303,5.9],[306,5.35],[308,5.35],[311,5.87],[313,5.5],[314,5.72],[316,5.5],[318,5.75],[320,5.4],[322,5.15],[324,5.35],[326,4.92],[328,5.8],[330,5.25],[331,5.55],[333,5.2],[334,5.35],[337,5.7],[338,5.02],[341,5.85],[343,5.4],[345,5.82],[347,4.95],[352,5.49],[355,4.64],[359,5.7],[361,5.3],[363,6.02],[365,5.85]];
const adaE = [[0,5.6],[2,4.97],[4,5.33],[6,4.82],[9,5.13],[11,4.77],[12,4.97],[14,4.63],[16,4.7],[18,4.45],[20,4.78],[21,4.55],[24,4.2],[27,4.48],[29,3.92],[30,3.97],[31,4.4],[33,4.62],[35,5.28],[37,4.8],[38,5.02],[41,4.44],[43,4.6],[45,5.13],[47,4.95],[51,4.28],[52,4.4],[54,5.13],[55,4.97],[56,5.22],[59,4.47],[61,4.73],[63,4.42],[65,4.4],[68,4.12],[69,4.4],[71,4.27],[73,4.58],[75,4.47],[77,4.93],[79,4.18],[82,3.99],[84,4.73],[86,4.45],[87,4.67],[89,4.52],[92,5.03],[93,4.72],[95,4.85],[96,4.65],[98,5.03],[101,4.47],[102,4.6],[104,4.42],[107,5.0],[108,4.8],[111,5.08],[113,4.57],[115,4.8],[116,4.65],[118,4.88],[119,4.67],[121,5.03],[123,4.3],[125,4.13],[126,4.45],[129,4.57],[131,4.36],[135,4.97],[136,4.63],[138,4.8],[140,4.5],[142,4.7],[145,5.1],[149,4.35],[150,4.53],[152,4.5],[154,4.05],[156,4.2],[158,4.08],[160,4.73],[162,4.8],[164,5.12],[167,4.65],[170,4.43],[172,4.7],[174,4.5],[177,5.15],[179,4.85],[181,5.2],[183,4.92],[186,5.37],[190,4.33],[192,4.78],[195,4.7],[196,4.3],[198,4.35],[199,4.07],[201,4.32],[203,3.67],[207,4.63],[208,4.45],[209,4.7],[211,4.13],[214,4.33],[215,3.97],[220,4.87],[225,4.1],[228,4.72],[229,4.3],[231,4.38],[233,3.78],[235,4.15],[237,4.1],[241,5.28],[244,4.7],[248,3.88],[249,4.4],[251,4.43],[253,4.57],[254,4.72],[257,4.75],[259,4.25],[261,4.68],[263,4.3],[266,4.62],[267,4.47],[270,4.67],[273,5.05],[275,4.67],[276,4.85],[279,5.18],[281,4.77],[284,4.68],[286,4.8],[288,5.0],[291,5.0],[293,5.05],[295,4.6],[297,4.4],[301,5.13],[302,4.82],[304,5.08],[307,4.5],[310,4.97],[312,5.18],[314,4.85],[316,4.65],[318,4.97],[320,4.53],[323,4.46],[325,4.55],[327,4.85],[329,5.0],[330,4.75],[333,4.4],[336,4.8],[338,4.52],[341,5.3],[344,4.73],[346,5.0],[348,4.3],[350,4.98],[354,4.3],[356,4.6],[359,4.22],[362,4.93],[363,4.5],[365,4.5]];

const ctlF = [[0,8.7],[2,9.28],[4,9.3],[7,8.0],[10,9.5],[12,9.15],[14,8.45],[15,8.67],[17,8.1],[20,9.65],[22,8.4],[25,7.4],[27,8.03],[29,8.0],[31,8.1],[32,7.9],[36,9.0],[37,8.85],[40,8.2],[42,7.35],[45,8.2],[48,8.1],[50,7.15],[53,8.17],[55,7.77],[58,7.95],[61,7.65],[63,7.75],[65,7.05],[68,7.65],[69,7.17],[72,7.75],[75,8.0],[77,8.83],[80,6.95],[82,6.65],[84,8.0],[87,8.85],[90,8.05],[92,8.8],[94,8.6],[97,9.38],[99,8.5],[101,8.05],[102,8.08],[104,7.65],[107,9.0],[109,8.1],[110,8.2],[113,8.62],[117,7.7],[121,9.0],[123,8.8],[125,7.6],[127,7.9],[130,7.93],[131,8.2],[133,8.0],[135,8.4],[137,7.95],[139,8.57],[141,7.5],[144,8.45],[146,8.35],[147,8.4],[149,7.9],[150,8.35],[152,7.6],[155,7.1],[157,7.55],[159,7.03],[162,7.15],[166,8.2],[167,8.35],[170,7.12],[172,8.1],[174,8.23],[178,9.1],[180,8.35],[182,8.45],[185,7.7],[188,7.9],[190,7.85],[194,8.98],[197,7.65],[200,7.4],[202,6.8],[206,8.27],[209,7.8],[211,6.85],[214,6.45],[218,7.2],[221,8.55],[225,7.45],[227,8.4],[229,7.65],[231,8.18],[234,8.1],[238,6.65],[242,9.12],[245,8.7],[248,7.35],[251,8.2],[254,7.85],[257,9.1],[260,7.9],[262,8.3],[264,8.2],[267,7.25],[269,7.47],[271,6.98],[274,7.85],[276,8.35],[277,7.9],[280,9.08],[285,7.6],[289,8.4],[292,7.95],[296,8.57],[298,8.3],[300,8.55],[303,8.0],[306,7.6],[311,9.0],[313,8.5],[315,8.85],[316,8.5],[318,8.73],[322,7.6],[324,8.27],[326,7.6],[329,8.5],[331,8.0],[332,8.2],[335,7.75],[337,8.65],[339,7.45],[343,8.33],[344,8.1],[346,8.57],[348,7.8],[352,7.6],[355,6.75],[358,8.1],[360,8.4],[362,8.1],[364,8.65],[365,8.5]];
const adaF = [[0,8.6],[3,8.78],[5,8.3],[7,7.4],[9,8.27],[11,7.8],[13,8.0],[15,7.73],[17,7.8],[19,8.3],[22,7.75],[24,6.9],[26,7.5],[29,6.85],[31,7.05],[32,7.0],[35,8.72],[37,8.3],[41,8.0],[42,7.0],[45,8.15],[48,7.35],[51,6.65],[54,8.3],[56,8.0],[59,7.45],[61,8.12],[64,6.55],[67,6.05],[69,6.15],[72,7.1],[75,7.15],[77,7.6],[80,6.85],[82,6.15],[85,7.25],[88,7.5],[90,7.25],[92,7.93],[94,7.22],[97,7.9],[98,7.75],[99,7.95],[102,7.15],[105,6.68],[107,7.65],[109,7.55],[111,8.12],[113,7.57],[117,7.25],[122,7.95],[126,6.77],[127,7.13],[130,6.85],[131,7.2],[133,7.2],[135,7.8],[137,7.25],[140,6.97],[145,8.3],[148,7.2],[150,7.55],[152,6.73],[154,6.38],[157,6.68],[158,6.4],[160,6.93],[162,6.92],[166,7.3],[168,7.3],[170,6.4],[172,6.9],[173,6.75],[175,7.3],[178,7.92],[181,7.7],[183,7.5],[185,7.9],[190,6.42],[192,7.5],[195,7.4],[198,6.35],[201,6.78],[203,6.02],[205,6.6],[209,7.22],[211,6.25],[214,6.02],[217,6.3],[220,7.15],[222,7.37],[225,6.38],[227,7.2],[230,6.4],[232,6.25],[233,6.05],[235,6.0],[237,5.85],[239,6.1],[241,8.35],[245,7.3],[248,6.35],[250,6.75],[253,7.1],[256,7.7],[259,6.65],[262,7.1],[264,6.7],[266,6.95],[269,7.03],[273,7.55],[275,7.13],[279,8.12],[282,7.35],[284,7.45],[287,7.98],[292,7.2],[294,7.38],[298,7.28],[301,7.95],[304,7.55],[307,6.82],[309,6.87],[312,8.3],[316,7.55],[318,8.27],[322,6.82],[324,7.25],[326,7.65],[328,7.47],[329,7.82],[333,6.97],[336,7.7],[338,7.05],[343,7.9],[344,7.55],[346,7.88],[348,7.42],[350,7.8],[354,6.55],[357,6.98],[359,6.7],[364,7.6],[365,7.15]];

const NS = 'http://www.w3.org/2000/svg';

function mk(parent, tag, attrs) {
  const el = document.createElementNS(NS, tag);
  for (const k in attrs) el.setAttribute(k, attrs[k]);
  parent.appendChild(el);
  return el;
}

function addLine(parent, x1, y1, x2, y2, w, name) {
  const el = mk(parent, 'line', {x1:x1, y1:y1, x2:x2, y2:y2, stroke:'#000', 'stroke-width':w});
  
  
  return el;
}

// Rounded curve through the read values, so peaks look like the original's
function smoothPath(pts) {
  let d = 'M' + pts[0][0].toFixed(1) + ' ' + pts[0][1].toFixed(1);
  const k = 0.13;
  for (let i = 0; i < pts.length - 1; i++) {
    const p0 = pts[Math.max(i - 1, 0)];
    const p1 = pts[i];
    const p2 = pts[i + 1];
    const p3 = pts[Math.min(i + 2, pts.length - 1)];
    const c1x = p1[0] + (p2[0] - p0[0]) * k;
    const c1y = p1[1] + (p2[1] - p0[1]) * k;
    const c2x = p2[0] - (p3[0] - p1[0]) * k;
    const c2y = p2[1] - (p3[1] - p1[1]) * k;
    d += 'C' + c1x.toFixed(1) + ' ' + c1y.toFixed(1) + ' ' + c2x.toFixed(1) + ' ' + c2y.toFixed(1) + ' ' + p2[0].toFixed(1) + ' ' + p2[1].toFixed(1);
  }
  return d;
}

function drawSeries(parent, series, sx, sy, color, name) {
  const pts = series.map(p => [sx(p[0]), sy(p[1])]);
  const el = mk(parent, 'path', {d:smoothPath(pts), fill:'none', stroke:color, 'stroke-width':4.4, 'stroke-linejoin':'round', 'stroke-linecap':'round'});
  
  
}

function drawPanel(id, box, yLabels, yMinorPerMajor, yFont, yLabelRight, xLabelBase, leg, ada, ctl) {
  const g = document.getElementById('panel-' + id);
  const yMin = Number(yLabels[0]);
  const yMax = box.yMax;
  const sx = d => box.x0 + (d / 360) * (box.x360 - box.x0);
  const sy = v => box.bottom - ((v - yMin) / (yMax - yMin)) * (box.bottom - box.top);

  // series (drawn first so axes sit on top)
  drawSeries(g, ada, sx, sy, '#06ee06', 'ada-se-line-' + id);
  drawSeries(g, ctl, sx, sy, '#050505', 'ctl-line-' + id);

  // frame
  const frame = mk(g, 'rect', {x:box.x0, y:box.top, width:box.right - box.x0, height:box.bottom - box.top, fill:'none', stroke:'#000', 'stroke-width':2});
  
  

  // x ticks (minor every 6 days)
  for (let d = 0; d <= 365; d += 6) {
    const major = d % 30 === 0;
    const len = major ? 23 : 11;
    const w = major ? 3.4 : 1.8;
    addLine(g, sx(d), box.bottom, sx(d), box.bottom + len, w, 'x-tick-bottom-' + id);
    addLine(g, sx(d), box.top, sx(d), box.top - len, w, 'x-tick-top-' + id);
  }
  dayTicks.forEach(d => {
    const t = mk(g, 'text', {x:sx(d), y:xLabelBase, 'text-anchor':'middle', 'font-size':25.5});
    t.textContent = String(d);
    
    
  });

  // y ticks
  const yVals = yLabels.map(Number);
  const step = yVals[1] - yVals[0];
  const minorStep = step / yMinorPerMajor;
  const nMinor = Math.round((yMax - yMin) / minorStep);
  for (let i = 0; i <= nMinor; i++) {
    const v = yMin + i * minorStep;
    const major = i % yMinorPerMajor === 0;
    const len = major ? 23 : 12;
    const w = major ? 3.4 : 2;
    addLine(g, box.x0, sy(v), box.x0 - len, sy(v), w, 'y-tick-left-' + id);
    addLine(g, box.right, sy(v), box.right + len, sy(v), w, 'y-tick-right-' + id);
  }
  yLabels.forEach(lbl => {
    const t = mk(g, 'text', {x:yLabelRight, y:sy(Number(lbl)) + yFont * 0.36, 'text-anchor':'end', 'font-size':yFont});
    t.textContent = lbl;
    
    
  });

  // legend
  const lg = mk(g, 'g', {});
  
  
  const lb = mk(lg, 'rect', {x:leg.x, y:leg.y, width:129, height:leg.h, fill:'none', stroke:'#000', 'stroke-width':3});
  
  
  const l1 = mk(lg, 'line', {x1:leg.x + 3, x2:leg.x + 51, y1:leg.y1, y2:leg.y1, stroke:'#06ee06', 'stroke-width':5});
  
  
  const l2 = mk(lg, 'line', {x1:leg.x + 3, x2:leg.x + 51, y1:leg.y2, y2:leg.y2, stroke:'#050505', 'stroke-width':5});
  
  
  const t1 = mk(lg, 'text', {x:leg.x + 52.6, y:leg.y1 + 8.5, 'font-size':22.5});
  t1.textContent = 'ada_se';
  
  
  const t2 = mk(lg, 'text', {x:leg.x + 52.6, y:leg.y2 + 8.5, 'font-size':22.5});
  t2.textContent = 'ctl';
  
  
}

drawPanel('a', {x0:136, x360:975.7, right:987.3, top:115.5, bottom:541.3, yMax:4.8}, yLabelsA, 5, 25, 95, 601, {x:795, y:122.7, h:65.3, y1:140.2, y2:169.7}, adaA, ctlA);
drawPanel('b', {x0:1163.3, x360:2013.3, right:2026, top:109.5, bottom:540, yMax:4.5}, yLabelsB, 3, 21.5, 1128.3, 600, {x:1832.2, y:116.2, h:66, y1:134.7, y2:163.4}, adaB, ctlB);
drawPanel('c', {x0:136, x360:975.7, right:987.3, top:765.7, bottom:1191, yMax:9}, yLabelsC, 5, 25, 95.6, 1250.7, {x:795, y:772.4, h:65, y1:789.7, y2:819.2}, adaC, ctlC);
drawPanel('d', {x0:1166, x360:2013.3, right:2026, top:763.2, bottom:1193, yMax:13}, yLabelsD, 5, 25, 1125, 1252.8, {x:1832.2, y:770.3, h:65.3, y1:788.4, y2:817}, adaD, ctlD);
drawPanel('e', {x0:145.8, x360:985.3, right:997.3, top:1429.9, bottom:1855.7, yMax:6.5}, yLabelsE, 5, 25, 105.5, 1915, {x:804.7, y:1436.6, h:65, y1:1455.6, y2:1483.8}, adaE, ctlE);
drawPanel('f', {x0:1165.7, x360:2013.5, right:2026, top:1433.3, bottom:1862.7, yMax:10}, yLabelsF, 5, 25, 1124.3, 1923.3, {x:1832.2, y:1440, h:65.3, y1:1458.5, y2:1488}, adaF, ctlF);
</script>
</body>
</html>
